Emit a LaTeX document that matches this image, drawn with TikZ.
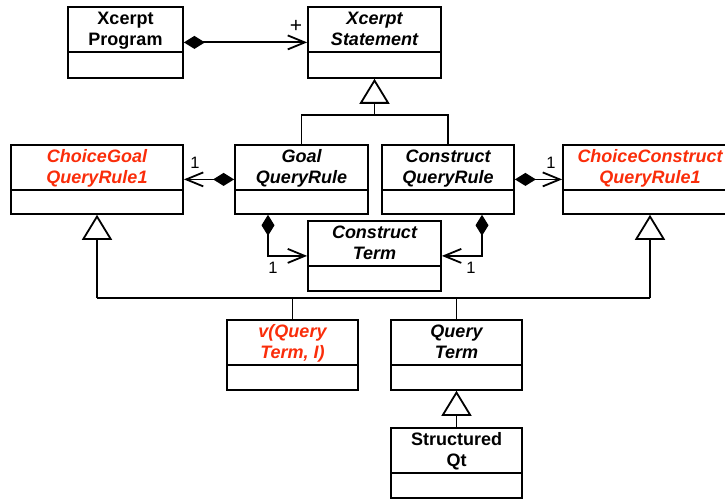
\documentclass[tikz,border=0pt]{standalone}
\usepackage{fontspec}
\setmainfont{Liberation Sans}
\usetikzlibrary{arrows.meta}
\definecolor{choicered}{RGB}{250,45,10}

% A UML class: outer frame (name), header divider, class name text.
% #1 node name, #2 centre x, #3 top y, #4 width, #5 total height, #6 text style, #7 class name
\newcommand{\umlclassbox}[7]{%
  \node[classframe, minimum width=#4, minimum height=#5, anchor=north] (#1) at (#2,#3) {};
  \draw[umlline] ([yshift=-46pt]#1.north west) -- ([yshift=-46pt]#1.north east);
  \node[classname, #6, anchor=north] (#1-name) at ([yshift=-5.6pt]#1.north) {#7};
}

\begin{document}
\begin{tikzpicture}[x=1pt, y=-1pt,
  umlline/.style={line width=1.8pt, line cap=butt},
  classframe/.style={draw, umlline, rectangle, inner sep=0pt},
  classname/.style={inner sep=0pt, align=center, font=\fontsize{18}{21}\selectfont\bfseries},
  abstract/.style={font=\fontsize{18}{21}\selectfont\bfseries\itshape},
  choice/.style={font=\fontsize{18}{21}\selectfont\bfseries\itshape, text=choicered},
  comp/.style={umlline, {Diamond[length=21pt, width=13pt, fill=black]}-{Straight Barb[length=17pt, width=14pt]}},
  gen/.style={umlline, -{Triangle[open, length=25pt, width=30pt, fill=white]}},
  mult/.style={inner sep=0pt, font=\fontsize{16.5}{19}\selectfont},
]
\useasboundingbox (0,0) rectangle (725,500);

% classes
\umlclassbox{prog}{125.5}{6}{115}{71}{}{Xcerpt\\Program}
\umlclassbox{stmt}{374.5}{6}{133}{71}{abstract}{Xcerpt\\Statement}
\umlclassbox{cgoal}{97}{144}{172}{69}{choice}{ChoiceGoal\\QueryRule1}
\umlclassbox{goal}{301.5}{144}{133}{69}{abstract}{Goal\\QueryRule}
\umlclassbox{cons}{448}{144}{132}{69}{abstract}{Construct\\QueryRule}
\umlclassbox{ccons}{650}{144}{174}{69}{choice}{ChoiceConstruct\\QueryRule1}
\umlclassbox{cterm}{374.5}{220}{133}{70}{abstract}{Construct\\Term}
\umlclassbox{vq}{292.5}{319}{131}{70}{choice}{v(Query\\Term, I)}
\umlclassbox{qt}{456.5}{319}{131}{70}{abstract}{Query\\Term}
\umlclassbox{sqt}{456.5}{427}{131}{70}{}{Structured\\Qt}

% composition: program contains statements
\draw[comp] (prog.east) -- (stmt.west);
\node[mult, font=\fontsize{21}{24}\selectfont] (m-plus) at (296,26) {+};

% statement specialisations
\coordinate (hubS) at (stmt.south |- 0,115);
\draw[gen] (hubS) -- (stmt.south);
\draw[umlline] (goal.north) |- (hubS) -| (cons.north);

% query rules and their choice parts
\draw[comp] (goal.west) -- (cgoal.east);
\node[mult] (m-goal) at (195,163) {1};
\draw[comp] (cons.east) -- (ccons.west);
\node[mult] (m-cons) at (551,163) {1};

% query rules and the construct term
\coordinate (goalC) at ([xshift=-33.5pt]goal.south);
\coordinate (consC) at ([xshift=34pt]cons.south);
\draw[comp] (goalC) |- (cterm.west);
\node[mult] (m-gterm) at (273,268) {1};
\draw[comp] (consC) |- (cterm.east);
\node[mult] (m-cterm) at (471,268) {1};

% choice specialisations
\coordinate (busL) at (cgoal.south |- 0,298);
\coordinate (busR) at (ccons.south |- 0,298);
\draw[gen] (busL) -- (cgoal.south);
\draw[gen] (busR) -- (ccons.south);
\draw[umlline] (busL) -- (busR);
\draw[umlline] (vq.north) -- (vq.north |- busL);
\draw[umlline] (qt.north) -- (qt.north |- busL);

% structured query terms
\draw[gen] (sqt.north) -- (qt.south);
\end{tikzpicture}
\end{document}
